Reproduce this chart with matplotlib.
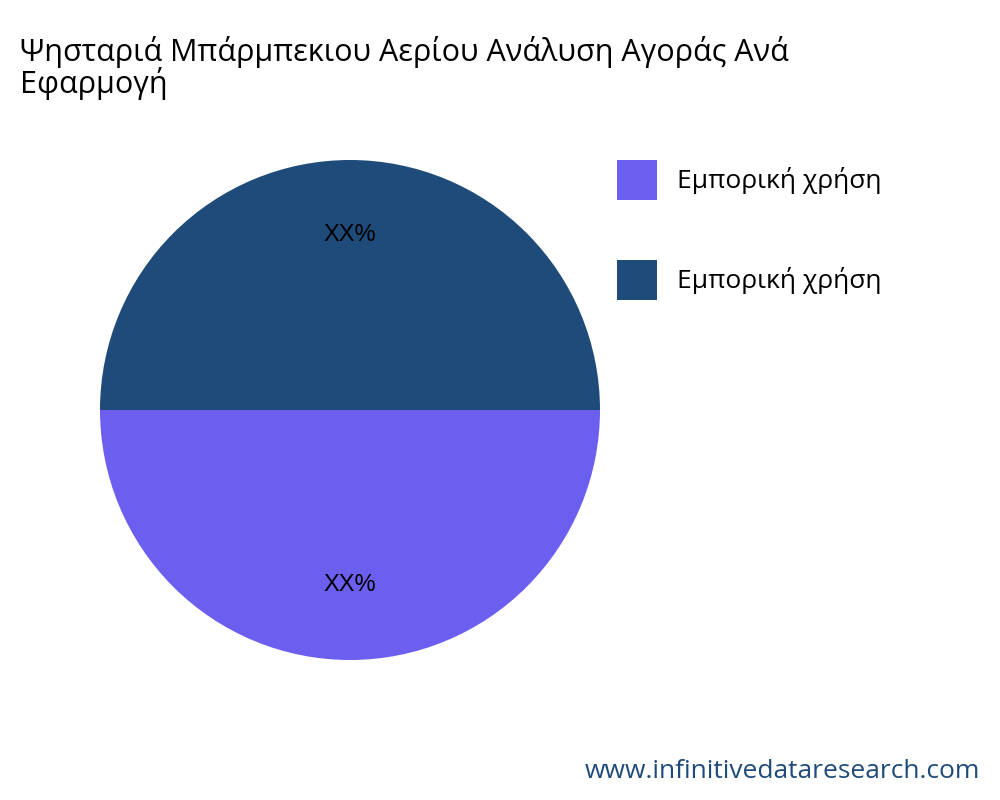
import matplotlib
matplotlib.use("Agg")
import matplotlib.pyplot as plt
from matplotlib.patches import Rectangle

title = "Ψησταριά Μπάρμπεκιου Αερίου Ανάλυση Αγοράς Ανά\nΕφαρμογή"
categories = ["Εμπορική χρήση", "Εμπορική χρήση"]
values = [50, 50]
labels = ["XX%", "XX%"]
colors = ["#6c5ff0", "#1f4b7a"]

fig = plt.figure(figsize=(10, 8), dpi=100)
ax = fig.add_axes([0.1, 0.175, 0.5, 0.625])
wedges, texts = ax.pie(values, colors=colors, startangle=180, labels=labels,
                       labeldistance=0.7, radius=1.0,
                       textprops=dict(fontsize=17, family="Liberation Sans", color="black"))
for t in texts:
    t.set_ha("center"); t.set_va("center")
ax.set_xlim(-1, 1); ax.set_ylim(-1, 1); ax.set_aspect("equal")

fig.text(0.02, 0.955, title, fontsize=22, family="Open Sans", va="top", ha="left", linespacing=0.95)

for i, (c, col) in enumerate(zip(categories, colors)):
    y = 1 - (160 + 100 * i) / 800
    fig.patches.append(Rectangle((0.617, y - 0.05), 0.04, 0.05, transform=fig.transFigure,
                                 facecolor=col, edgecolor="none"))
    fig.text(0.677, y - 0.025, c, fontsize=19, family="Open Sans", va="center", ha="left")

fig.text(0.98, 0.02, "www.infinitivedataresearch.com", fontsize=19, family="Open Sans",
         color="#1f4b7a", ha="right", va="bottom")
fig.savefig("out.png")
